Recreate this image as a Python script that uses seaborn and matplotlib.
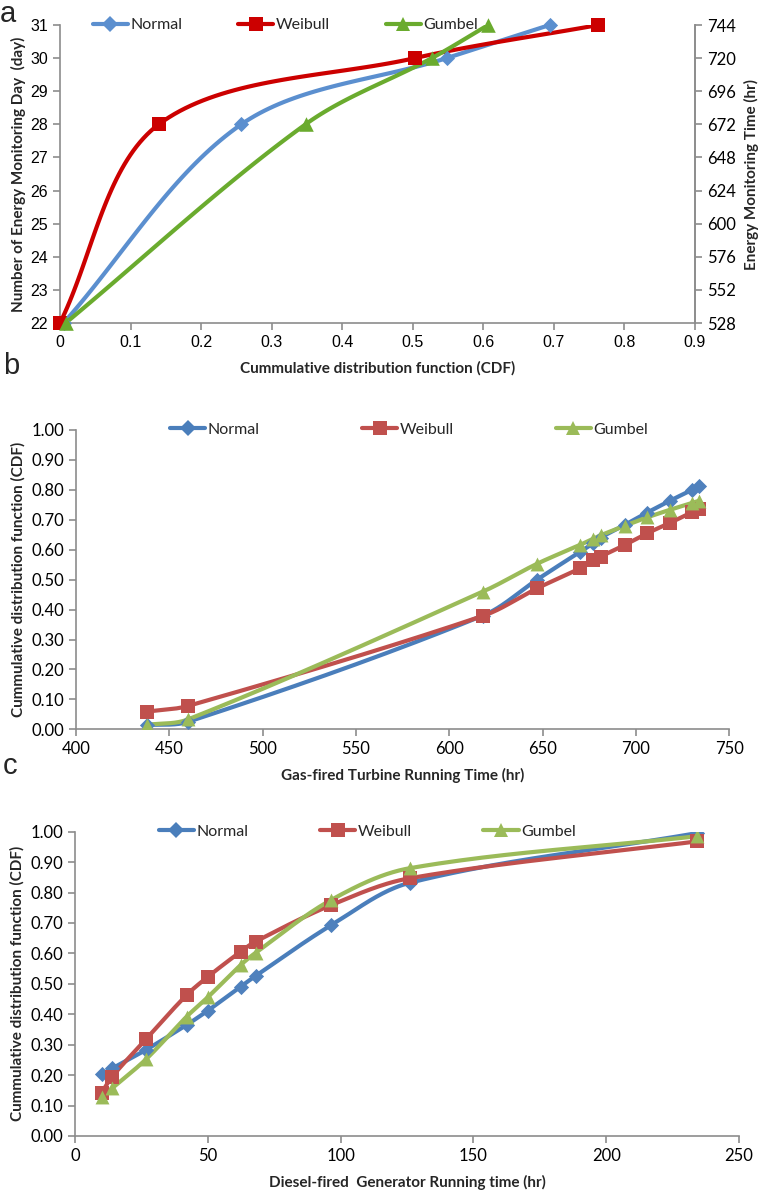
import numpy as np
import matplotlib
matplotlib.use("Agg")
import matplotlib.pyplot as plt
from matplotlib.lines import Line2D
import seaborn as sns

# panel a: CDF vs monitoring day
a_days = [22, 28, 30, 31]
a_normal = [0.005, 0.257, 0.548, 0.694]
a_weibull = [0.0, 0.140, 0.503, 0.763]
a_gumbel = [0.008, 0.348, 0.527, 0.607]

# panel b: gas-fired turbine
b_hours = [438, 460, 618, 647, 670, 677, 681, 694, 706, 718, 730, 734]
b_normal = [0.014, 0.025, 0.380, 0.500, 0.593, 0.621, 0.640, 0.683, 0.724, 0.763, 0.800, 0.812]
b_weibull = [0.059, 0.078, 0.379, 0.471, 0.538, 0.566, 0.577, 0.616, 0.655, 0.689, 0.725, 0.735]
b_gumbel = [0.015, 0.033, 0.460, 0.553, 0.616, 0.637, 0.648, 0.680, 0.708, 0.733, 0.756, 0.764]

# panel c: diesel-fired generator
c_hours = [10, 14, 26.7, 42, 50, 62.4, 68, 96.5, 126, 234]
c_normal = [0.203, 0.222, 0.283, 0.365, 0.412, 0.491, 0.526, 0.693, 0.832, 0.995]
c_weibull = [0.142, 0.195, 0.318, 0.463, 0.523, 0.606, 0.639, 0.759, 0.847, 0.968]
c_gumbel = [0.129, 0.157, 0.252, 0.392, 0.456, 0.562, 0.602, 0.776, 0.880, 0.985]

labels = ["Normal", "Weibull", "Gumbel"]

sns.set_style("white")
plt.rcParams['font.family'] = ['Lato', 'DejaVu Sans']

GRAY = "#8c8c8c"


def smooth(ax, x, y, n=40):
    # excel-like smoothed line: bezier through the points, done in pixel space
    x0, x1 = ax.get_xlim(); y0, y1 = ax.get_ylim()
    bb = ax.get_position()
    W = bb.width * 763; H = bb.height * 1193
    P = np.column_stack([(np.array(x, float) - x0) / (x1 - x0) * W,
                         (np.array(y, float) - y0) / (y1 - y0) * H])
    d = np.linalg.norm(np.diff(P, axis=0), axis=1)
    out = []
    t = np.linspace(0, 1, n)[:, None]
    for i in range(len(P) - 1):
        p1 = P[i]; p2 = P[i + 1]
        if i > 0:
            b1 = p1 + (p2 - P[i - 1]) * d[i] / (d[i - 1] + d[i]) / 3
        else:
            b1 = p1 + (p2 - p1) / 3
        if i + 2 < len(P):
            b2 = p2 - (P[i + 2] - p1) * d[i] / (d[i] + d[i + 1]) / 3
        else:
            b2 = p2 - (p2 - p1) / 3
        seg = (1 - t) ** 3 * p1 + 3 * (1 - t) ** 2 * t * b1 + 3 * (1 - t) * t ** 2 * b2 + t ** 3 * p2
        out.append(seg if i == 0 else seg[1:])
    S = np.vstack(out)
    return S[:, 0] / W * (x1 - x0) + x0, S[:, 1] / H * (y1 - y0) + y0


def draw(ax, x, series, colors, mcolors, markers, sizes, lw):
    for ys, c, mc, m, s in zip(series, colors, mcolors, markers, sizes):
        sx, sy = smooth(ax, x, ys)
        sns.lineplot(x=sx, y=sy, ax=ax, color=c, lw=lw, sort=False, estimator=None)
        sns.scatterplot(x=x, y=ys, ax=ax, marker=m, s=s, color=mc, linewidth=0, zorder=5)


def style(ax, spines=("left", "bottom")):
    for k, sp in ax.spines.items():
        sp.set_visible(k in spines)
        sp.set_color(GRAY)
        sp.set_linewidth(1.2)
    ax.tick_params(direction="out", length=5, width=1.2, color=GRAY, labelsize=12, labelcolor="black")
    ax.tick_params(axis="both", which="both", bottom=("bottom" in spines), left=("left" in spines))


def legend(ax, colors, markers, msizes, lw, spacing, xc, y=1.0):
    handles = [Line2D([0], [0], color=c, lw=lw, marker=m, markersize=ms, markeredgewidth=0)
               for c, m, ms in zip(colors, markers, msizes)]
    ax.legend(handles, labels, loc="center", bbox_to_anchor=(xc, y), ncol=3, frameon=False,
              handlelength=2.2, handletextpad=0.15, columnspacing=spacing, fontsize=11.5)


fig = plt.figure(figsize=(7.63, 11.93), dpi=100)

# ---------- panel a
ax = fig.add_axes([60 / 763, 1 - 323 / 1193, 635 / 763, 298 / 1193])
ax.set_xlim(0, 0.9); ax.set_ylim(22, 31)
ax.set_xticks(np.arange(0, 0.91, 0.1))
ax.set_xticklabels(["0"] + [f"{v:.1f}" for v in np.arange(0.1, 0.91, 0.1)], family="Liberation Sans")
ax.set_yticks(range(22, 32))
ax.set_yticklabels([str(v) for v in range(22, 32)], family="Liberation Sans")
a_cols = ["#5b8fcf", "#cc0000", "#6aab2e"]
for xs, c, m, s in zip([a_normal, a_weibull, a_gumbel], a_cols, ["D", "s", "^"], [60, 110, 110]):
    sx, sy = smooth(ax, xs, a_days)
    sns.lineplot(x=sx, y=sy, ax=ax, color=c, lw=3, sort=False, estimator=None)
    sns.scatterplot(x=xs, y=a_days, ax=ax, marker=m, s=s, color=c, linewidth=0, zorder=5, clip_on=False)
style(ax, ("left", "bottom", "right"))
ax.tick_params(labelsize=11.5)
ax.set_xlabel("Cummulative distribution function (CDF)", fontsize=11, fontweight="bold", labelpad=8)
ax.set_ylabel("Number of Energy Monitoring Day  (day)", fontsize=11, fontweight="bold", labelpad=3)
legend(ax, a_cols, ["D", "s", "^"], [8, 10, 10], 3, 3.5, 0.355)
ax2 = ax.twinx()
ax2.set_ylim(22 * 24, 31 * 24)
ax2.set_yticks(range(528, 745, 24))
style(ax2, ("right",))
ax2.tick_params(axis="y", right=True, labelright=True, labelsize=12)
ax2.set_ylabel("Energy Monitoring Time (hr)", fontsize=11, fontweight="bold", labelpad=6)
fig.text(0.0, 1.0, "a", fontsize=21, va="top", ha="left", family="Liberation Sans")

# ---------- panel b
bc_cols = ["#4a7ebb", "#c0504d", "#9bbb59"]
ax = fig.add_axes([76 / 763, 1 - 729.3 / 1193, 653.3 / 763, 299.3 / 1193])
ax.set_xlim(400, 750); ax.set_ylim(0, 1)
ax.set_xticks(range(400, 751, 50))
ax.set_yticks(np.arange(0, 1.01, 0.1))
ax.set_yticklabels([f"{v:.2f}" for v in np.arange(0, 1.01, 0.1)])
draw(ax, b_hours, [b_normal, b_weibull, b_gumbel], bc_cols, ["#4f81bd", "#c0504d", "#9bbb59"],
     ["D", "s", "^"], [60, 100, 100], 3)
style(ax)
ax.set_xlabel("Gas-fired Turbine Running Time (hr)", fontsize=11, fontweight="bold", labelpad=8)
ax.set_ylabel("Cummulative distribution function (CDF)", fontsize=11, fontweight="bold", labelpad=4)
legend(ax, bc_cols, ["D", "s", "^"], [8, 10, 10], 3, 6.4, 0.51)
fig.text(0.004, 1 - 352 / 1193, "b", fontsize=21, va="top", ha="left", family="Liberation Sans")

# ---------- panel c
ax = fig.add_axes([75 / 763, 1 - 1136 / 1193, 664 / 763, 304.3 / 1193])
ax.set_xlim(0, 250); ax.set_ylim(0, 1)
ax.set_xticks(range(0, 251, 50))
ax.set_yticks(np.arange(0, 1.01, 0.1))
ax.set_yticklabels([f"{v:.2f}" for v in np.arange(0, 1.01, 0.1)])
draw(ax, c_hours, [c_normal, c_weibull, c_gumbel], bc_cols, ["#4f81bd", "#c0504d", "#9bbb59"],
     ["D", "s", "^"], [60, 100, 100], 3)
style(ax)
ax.set_xlabel("Diesel-fired  Generator Running time (hr)", fontsize=11, fontweight="bold", labelpad=8)
ax.set_ylabel("Cummulative distribution function (CDF)", fontsize=11, fontweight="bold", labelpad=4)
legend(ax, bc_cols, ["D", "s", "^"], [8, 10, 10], 3, 4.5, 0.44)
fig.text(0.003, 1 - 752 / 1193, "c", fontsize=21, va="top", ha="left", family="Liberation Sans")

fig.savefig("out.png", dpi=100)
